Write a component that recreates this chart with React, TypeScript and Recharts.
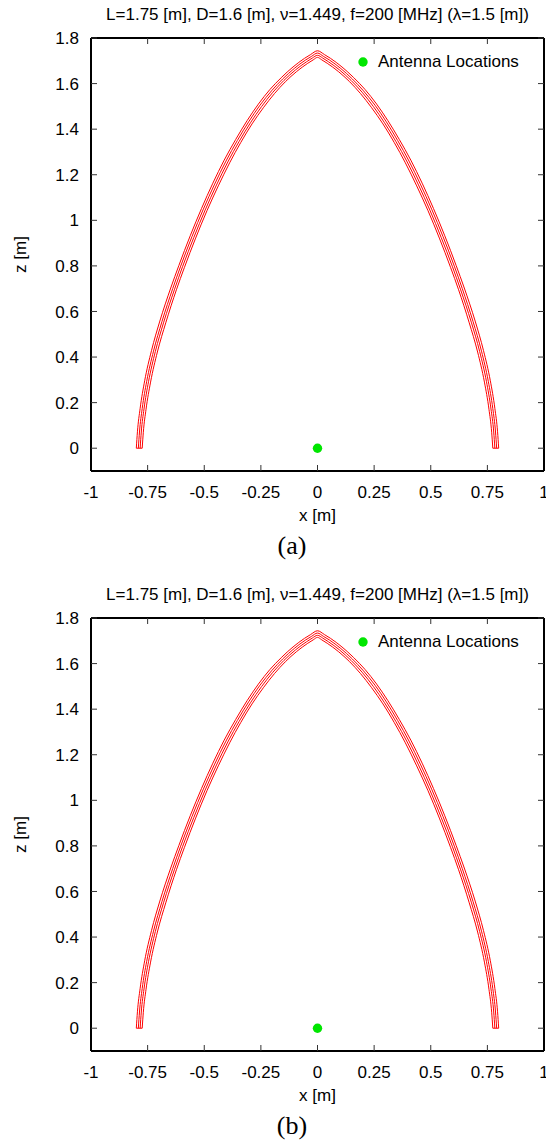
import React from 'react';
import { ComposedChart, Scatter, XAxis, YAxis, Legend } from 'recharts';

const TITLE = 'L=1.75 [m], D=1.6 [m], \u03bd=1.449, f=200 [MHz] (\u03bb=1.5 [m])';
const CAPTIONS = ['(a)', '(b)'];
const LEGEND_LABEL = 'Antenna Locations';

const xTicks = [-1, -0.75, -0.5, -0.25, 0, 0.25, 0.5, 0.75, 1];
const zTicks = [0, 0.2, 0.4, 0.6, 0.8, 1, 1.2, 1.4, 1.6, 1.8];

// right half of each of the four wall lines, apex first
const wall1X = [0, 0.031, 0.057, 0.108, 0.16, 0.21, 0.261, 0.311, 0.361, 0.412, 0.462, 0.512, 0.562, 0.612, 0.648, 0.696, 0.733, 0.763, 0.783, 0.795, 0.8];
const wall1Z = [1.744, 1.727, 1.711, 1.673, 1.626, 1.574, 1.51, 1.437, 1.355, 1.264, 1.163, 1.052, 0.932, 0.802, 0.703, 0.558, 0.428, 0.296, 0.175, 0.072, 0];
const wall2X = [0, 0.027, 0.052, 0.103, 0.154, 0.203, 0.254, 0.304, 0.354, 0.404, 0.454, 0.504, 0.554, 0.604, 0.639, 0.687, 0.724, 0.754, 0.774, 0.786, 0.791];
const wall2Z = [1.734, 1.719, 1.704, 1.666, 1.62, 1.568, 1.505, 1.432, 1.35, 1.26, 1.159, 1.049, 0.929, 0.799, 0.701, 0.555, 0.426, 0.294, 0.174, 0.071, 0];
const wall3X = [0, 0.023, 0.048, 0.097, 0.148, 0.197, 0.247, 0.296, 0.346, 0.396, 0.446, 0.496, 0.546, 0.596, 0.631, 0.679, 0.716, 0.746, 0.766, 0.778, 0.783];
const wall3Z = [1.724, 1.712, 1.696, 1.66, 1.614, 1.562, 1.499, 1.428, 1.346, 1.256, 1.155, 1.045, 0.925, 0.796, 0.698, 0.553, 0.424, 0.292, 0.172, 0.071, 0];
const wall4X = [0, 0.019, 0.043, 0.092, 0.142, 0.19, 0.239, 0.289, 0.339, 0.388, 0.438, 0.488, 0.538, 0.588, 0.623, 0.67, 0.707, 0.737, 0.757, 0.769, 0.774];
const wall4Z = [1.715, 1.704, 1.689, 1.653, 1.608, 1.556, 1.494, 1.423, 1.341, 1.252, 1.151, 1.042, 0.922, 0.792, 0.695, 0.55, 0.422, 0.29, 0.171, 0.07, 0];

// closing segments at the foot of each wall
const capLeftX = [-0.8, -0.774];
const capRightX = [0.774, 0.8];
const capZ = [0, 0];

const antennaX = [0];
const antennaZ = [0];

const FONT = '"Liberation Sans", Arial, Helvetica, sans-serif';
const RED = '#ff0000';
const GREEN = '#00e600';
const FS = 17;

type Pt = { x: number; z: number };

// the profile is symmetric: mirror the right half to get the full line
const profile = (xs: number[], zs: number[]): Pt[] => {
  const right = xs.map((x, i) => ({ x, z: zs[i] }));
  const left = right.slice(1).reverse().map((p) => ({ x: -p.x, z: p.z }));
  return [...left, ...right];
};
const pairs = (xs: number[], zs: number[]): Pt[] => xs.map((x, i) => ({ x, z: zs[i] }));

const walls = [
  profile(wall1X, wall1Z),
  profile(wall2X, wall2Z),
  profile(wall3X, wall3Z),
  profile(wall4X, wall4Z),
  pairs(capLeftX, capZ),
  pairs(capRightX, capZ),
];
const antennas = pairs(antennaX, antennaZ);

const NoDot = () => <g />;
const blank = () => '';
const AntennaDot = (props: any) => <circle cx={props.cx} cy={props.cy} r={4.7} fill={GREEN} />;

const LegendBox = () => (
  <div style={{ display: 'flex', alignItems: 'center', fontSize: FS, lineHeight: '20px', color: '#000', whiteSpace: 'nowrap' }}>
    <svg width={10} height={10}>
      <circle cx={5} cy={5} r={4.7} fill={GREEN} />
    </svg>
    <span style={{ marginLeft: 10 }}>{LEGEND_LABEL}</span>
  </div>
);

const tickStyle = { fill: '#000', fontSize: FS };
const frame = { stroke: '#000', strokeWidth: 2 };
const tickMark = { stroke: '#333', strokeWidth: 1 };

const Panel = ({ caption }: { caption: string }) => (
  <div style={{ position: 'relative', width: 546, height: 580, overflow: 'hidden' }}>
    <div style={{ position: 'absolute', left: 0, top: 5, width: 635, textAlign: 'center', fontSize: FS, lineHeight: '20px', whiteSpace: 'nowrap' }}>
      {TITLE}
    </div>
    <ComposedChart width={560} height={531} margin={{ top: 37, right: 15, bottom: 0, left: 0 }}>
      {/* negative tick size turns the marks inward, gnuplot style */}
      <XAxis
        xAxisId="x"
        dataKey="x"
        type="number"
        domain={[-1, 1]}
        allowDataOverflow
        ticks={xTicks}
        interval={0}
        tick={tickStyle}
        tickLine={tickMark}
        tickSize={-6}
        tickMargin={21}
        axisLine={frame}
        height={60}
        label={{
          content: (p: any) => (
            <text x={p.viewBox.x + p.viewBox.width / 2} y={p.viewBox.y + 50} textAnchor="middle" fontSize={FS} fill="#000">
              x [m]
            </text>
          ),
        }}
      />
      <XAxis
        xAxisId="top"
        dataKey="x"
        orientation="top"
        height={1}
        type="number"
        domain={[-1, 1]}
        allowDataOverflow
        ticks={xTicks}
        interval={0}
        tickFormatter={blank}
        tickSize={-6}
        tickLine={tickMark}
        axisLine={frame}
      />
      <YAxis
        yAxisId="z"
        dataKey="z"
        type="number"
        domain={[-0.1, 1.8]}
        allowDataOverflow
        ticks={zTicks}
        interval={0}
        tick={tickStyle}
        tickLine={tickMark}
        tickSize={-6}
        tickMargin={18}
        axisLine={frame}
        width={91}
        label={{
          content: (p: any) => {
            const cy = p.viewBox.y + p.viewBox.height / 2;
            return (
              <text x={26} y={cy} transform={`rotate(-90, 26, ${cy})`} textAnchor="middle" fontSize={FS} fill="#000">
                z [m]
              </text>
            );
          },
        }}
      />
      <YAxis
        yAxisId="right"
        dataKey="z"
        orientation="right"
        width={1}
        type="number"
        domain={[-0.1, 1.8]}
        allowDataOverflow
        ticks={zTicks}
        interval={0}
        tickFormatter={blank}
        tickSize={-6}
        tickLine={tickMark}
        axisLine={frame}
      />
      {walls.map((w, i) => (
        <Scatter
          key={i}
          xAxisId="x"
          yAxisId="z"
          data={w}
          fill={RED}
          line={{ stroke: RED, strokeWidth: 1 }}
          lineJointType="monotoneX"
          shape={NoDot}
          legendType="none"
          isAnimationActive={false}
        />
      ))}
      <Scatter xAxisId="x" yAxisId="z" name={LEGEND_LABEL} data={antennas} fill={GREEN} shape={AntennaDot} isAnimationActive={false} />
      {/* invisible copy so the top/right frame axes get a domain and draw their ticks */}
      <Scatter xAxisId="top" yAxisId="right" data={antennas} shape={NoDot} legendType="none" isAnimationActive={false} />
      <Legend
        layout="horizontal"
        verticalAlign="middle"
        align="center"
        wrapperStyle={{ position: 'absolute', left: 358, top: 52, width: 'auto', height: 'auto' }}
        content={() => <LegendBox />}
      />
    </ComposedChart>
    <div style={{ position: 'absolute', left: 0, top: 533, width: 584, textAlign: 'center', fontFamily: '"Liberation Serif", "Times New Roman", serif', fontSize: 26, lineHeight: '26px' }}>
      {caption}
    </div>
  </div>
);

const App = () => (
  <div style={{ position: 'absolute', left: 0, top: 0, width: 546, height: 1147, overflow: 'hidden', background: '#fff', fontFamily: FONT, color: '#000' }}>
    {CAPTIONS.map((c) => (
      <Panel key={c} caption={c} />
    ))}
  </div>
);

export default App;
